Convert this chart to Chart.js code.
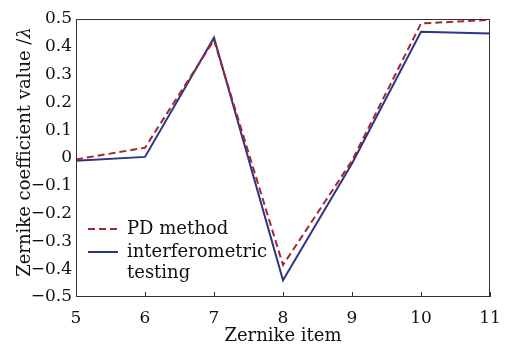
<!DOCTYPE html>
<html>
<head>
<meta charset="utf-8">
<script src="https://cdn.jsdelivr.net/npm/chart.js@4"></script>
<style>
  html, body { margin: 0; padding: 0; background: #fff; }
  #wrap { width: 505px; height: 344px; }
</style>
</head>
<body>
<div id="wrap"><canvas id="grafico"></canvas></div>
<script>
// dados
const itens = [5, 6, 7, 8, 9, 10, 11]
const pdMethod = [-0.005, 0.037, 0.424, -0.385, -0.01, 0.484, 0.497]
const interferometric = [-0.01, 0.004, 0.433, -0.44, -0.02, 0.454, 0.448]
const yTicks = [0.5, 0.4, 0.3, 0.2, 0.1, 0, -0.1, -0.2, -0.3, -0.4, -0.5]
const legendas = ['PD method', 'interferometric testing']
const tituloY = 'Zernike coefficient value /'
const lambda = '\u03bb'

const fonte = 'DejaVu Serif'

function pontos(valores) {
  return itens.map((x, i) => ({ x: x, y: valores[i] }))
}

function formataTick(v) {
  const r = Math.round(v * 10) / 10
  if (r === 0) return '0'
  return (r < 0 ? '\u2212' : '') + Math.abs(r).toString()
}

// moldura, ticks internos, titulo Y e legenda desenhados depois do grafico
const extras = {
  id: 'extras',
  afterDraw(chart) {
    const ctx = chart.ctx
    const a = chart.chartArea
    const xs = chart.scales.x
    ctx.save()
    ctx.strokeStyle = '#333'
    ctx.lineWidth = 1
    ctx.setLineDash([])
    ctx.strokeRect(a.left + 0.5, a.top + 0.5, a.right - a.left - 1, a.bottom - a.top - 1)
    itens.forEach(v => {
      const px = Math.round(xs.getPixelForValue(v)) + 0.5
      ctx.beginPath()
      ctx.moveTo(px, a.bottom)
      ctx.lineTo(px, a.bottom - 5)
      ctx.stroke()
    })

    // titulo do eixo y com lambda em italico
    ctx.save()
    ctx.translate(25, 152)
    ctx.rotate(-Math.PI / 2)
    ctx.fillStyle = '#111'
    ctx.textBaseline = 'middle'
    ctx.textAlign = 'left'
    const fNormal = '18px "' + fonte + '"'
    const fItalico = 'italic 18px "' + fonte + '"'
    ctx.font = fNormal
    const w1 = ctx.measureText(tituloY).width
    ctx.font = fItalico
    const w2 = ctx.measureText(lambda).width
    const x0 = -(w1 + w2) / 2
    ctx.font = fNormal
    ctx.fillText(tituloY, x0, 0)
    ctx.font = fItalico
    ctx.fillText(lambda, x0 + w1, 0)
    ctx.restore()

    // legenda
    ctx.font = '18px "' + fonte + '"'
    ctx.fillStyle = '#111'
    ctx.textBaseline = 'middle'
    let y = 229
    chart.data.datasets.forEach(ds => {
      ctx.strokeStyle = ds.borderColor
      ctx.lineWidth = 2
      ctx.setLineDash(ds.borderDash || [])
      ctx.beginPath()
      ctx.moveTo(88, y)
      ctx.lineTo(118, y)
      ctx.stroke()
      const palavras = ds.label.split(' ')
      let linha = ''
      palavras.forEach(p => {
        const teste = linha ? linha + ' ' + p : p
        if (ctx.measureText(teste).width > 160 && linha) {
          ctx.fillText(linha, 127, y)
          y += 21
          linha = p
        } else {
          linha = teste
        }
      })
      ctx.fillText(linha, 127, y)
      y += 23
    })
    ctx.restore()
  }
}

const chart = new Chart(document.getElementById('grafico'), {
  type: 'line',
  data: {
    datasets: [{
      label: legendas[0],
      data: pontos(pdMethod),
      borderColor: '#a3282e',
      borderWidth: 2,
      borderDash: [7, 4],
      pointRadius: 0,
      fill: false,
      tension: 0
    }, {
      label: legendas[1],
      data: pontos(interferometric),
      borderColor: '#2c3586',
      borderWidth: 2,
      pointRadius: 0,
      fill: false,
      tension: 0
    }]
  },
  options: {
    responsive: true,
    maintainAspectRatio: false,
    animation: false,
    layout: { padding: { top: 19, right: 15, left: 0, bottom: 0 } },
    plugins: {
      legend: { display: false },
      tooltip: { enabled: false }
    },
    scales: {
      x: {
        type: 'linear',
        min: 5,
        max: 11,
        afterFit(s) {
          s.height = 47
          s.paddingLeft = 0
          s.paddingRight = 0
        },
        afterBuildTicks(s) { s.ticks = itens.map(v => ({ value: v })) },
        grid: { display: false, drawTicks: false },
        border: { display: false },
        ticks: {
          color: '#111',
          font: { family: fonte, size: 17 },
          padding: 11,
          maxRotation: 0,
          autoSkip: false
        },
        title: {
          display: true,
          text: 'Zernike item',
          color: '#111',
          font: { family: fonte, size: 18 },
          padding: { top: 0, bottom: -3 }
        }
      },
      y: {
        min: -0.5,
        max: 0.5,
        afterFit(s) {
          s.width = 76
          s.paddingTop = 0
          s.paddingBottom = 0
        },
        afterBuildTicks(s) { s.ticks = yTicks.map(v => ({ value: v })) },
        grid: { display: false, drawTicks: false },
        border: { display: false },
        ticks: {
          color: '#111',
          font: { family: fonte, size: 17 },
          padding: 4,
          autoSkip: false,
          callback: v => formataTick(v)
        },
        title: { display: false }
      }
    }
  },
  plugins: [extras]
})
</script>
</body>
</html>
